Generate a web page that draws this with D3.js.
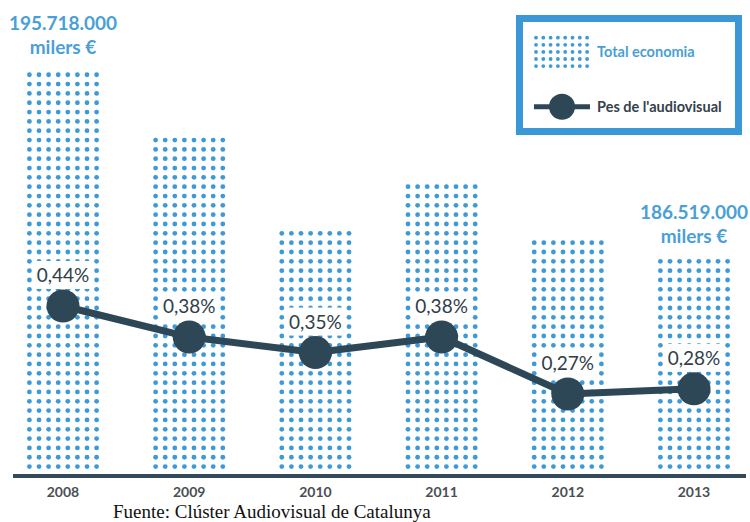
<!DOCTYPE html>
<html lang="ca">
<head>
<meta charset="utf-8">
<title>Total economia i pes de l'audiovisual</title>
<script src="https://cdn.jsdelivr.net/npm/d3@7"></script>
<style>
  body { margin: 0; background: #fff; }
  .year { font: bold 14px Lato, sans-serif; fill: #4a4f54; }
  .pct { font: 19px Lato, sans-serif; fill: #2f3e49; }
  .big { font: bold 19px Lato, sans-serif; fill: #4a9fd6; }
  .leg { font: bold 14.5px Lato, sans-serif; }
  .src { font: 19px "Liberation Serif", serif; fill: #111; }
</style>
</head>
<body>
<div id="chart"></div>
<script>
// data
const years = ["2008", "2009", "2010", "2011", "2012", "2013"];
const totalEconomia = [195718000, 192500000, 187900000, 190200000, 187500000, 186519000]; // milers €
const pesAudiovisual = [0.44, 0.38, 0.35, 0.38, 0.27, 0.28]; // %
const pctLabels = ["0,44%", "0,38%", "0,35%", "0,38%", "0,27%", "0,28%"];

const W = 750, H = 522;
const blue = "#3d9ad6", dark = "#2e4757";
const baseY = 476;

const svg = d3.select("#chart").append("svg").attr("width", W).attr("height", H);

const x = d3.scalePoint().domain(years).range([63, 694]);
const y = d3.scaleLinear().domain([176000000, 196000000]).range([baseY, 69.4]);
const yp = d3.scaleLinear().domain([0.27, 0.44]).range([394, 306]);

// dotted bars
const colStep = 9.6, rowStep = 9.33, bottomRow = 466.6;
const dots = [];
years.forEach((yr, i) => {
  const top = y(totalEconomia[i]);
  const rows = Math.round((bottomRow - top) / rowStep) + 1;
  for (let r = 0; r < rows; r++) {
    for (let c = 0; c < 8; c++) {
      dots.push({ cx: x(yr) + (c - 3.5) * colStep, cy: bottomRow - r * rowStep });
    }
  }
});
svg.append("g").selectAll("circle").data(dots).enter().append("circle")
  .attr("cx", d => d.cx).attr("cy", d => d.cy).attr("r", 2.4).attr("fill", blue);

// baseline
svg.append("line").attr("x1", 13).attr("x2", 746).attr("y1", baseY).attr("y2", baseY)
  .attr("stroke", "#34495a").attr("stroke-width", 4);

// years
svg.append("g").selectAll("text").data(years).enter().append("text")
  .attr("class", "year").attr("x", d => x(d)).attr("y", 497)
  .attr("text-anchor", "middle").text(d => d);

// label background
svg.append("g").selectAll("rect").data(years).enter().append("rect")
  .attr("x", d => x(d) - 30).attr("width", 60)
  .attr("y", (d, i) => yp(pesAudiovisual[i]) - 45).attr("height", 28)
  .attr("fill", "#fff");

// line
const line = d3.line().x((d, i) => x(years[i])).y(d => yp(d));
svg.append("path").datum(pesAudiovisual).attr("d", line)
  .attr("fill", "none").attr("stroke", dark).attr("stroke-width", 7)
  .attr("stroke-linejoin", "round");
svg.append("g").selectAll("circle").data(pesAudiovisual).enter().append("circle")
  .attr("cx", (d, i) => x(years[i])).attr("cy", d => yp(d)).attr("r", 16.5).attr("fill", dark);

svg.append("g").selectAll("text").data(pesAudiovisual).enter().append("text")
  .attr("class", "pct").attr("x", (d, i) => x(years[i])).attr("y", d => yp(d) - 24)
  .attr("text-anchor", "middle").text((d, i) => pctLabels[i]);

// first / last totals
const fmt = v => d3.format(",")(v).replace(/,/g, ".");
[[0, 30, 54], [5, 219, 243]].forEach(([i, y1, y2]) => {
  svg.append("text").attr("class", "big").attr("x", x(years[i])).attr("y", y1)
    .attr("text-anchor", "middle").text(fmt(totalEconomia[i]));
  svg.append("text").attr("class", "big").attr("x", x(years[i])).attr("y", y2)
    .attr("text-anchor", "middle").text("milers €");
});

// legend
const lg = svg.append("g");
lg.append("rect").attr("x", 519.5).attr("y", 18.5).attr("width", 219).attr("height", 113)
  .attr("fill", "#fff").attr("stroke", "#3b98d6").attr("stroke-width", 7);
for (let r = 0; r < 5; r++) {
  for (let c = 0; c < 8; c++) {
    lg.append("circle").attr("cx", 536 + c * 7.3).attr("cy", 37.7 + r * 7.1)
      .attr("r", 1.9).attr("fill", blue);
  }
}
lg.append("text").attr("class", "leg").attr("x", 597).attr("y", 56.5)
  .attr("fill", "#4a9fd6").text("Total economia");
lg.append("line").attr("x1", 534).attr("x2", 590).attr("y1", 106.7).attr("y2", 106.7)
  .attr("stroke", dark).attr("stroke-width", 5);
lg.append("circle").attr("cx", 562).attr("cy", 106.7).attr("r", 13).attr("fill", dark);
lg.append("text").attr("class", "leg").attr("x", 597).attr("y", 112)
  .attr("fill", "#34414b").text("Pes de l'audiovisual");

// source
svg.append("text").attr("class", "src").attr("x", 113).attr("y", 518)
  .text("Fuente: Clúster Audiovisual de Catalunya");
</script>
</body>
</html>
